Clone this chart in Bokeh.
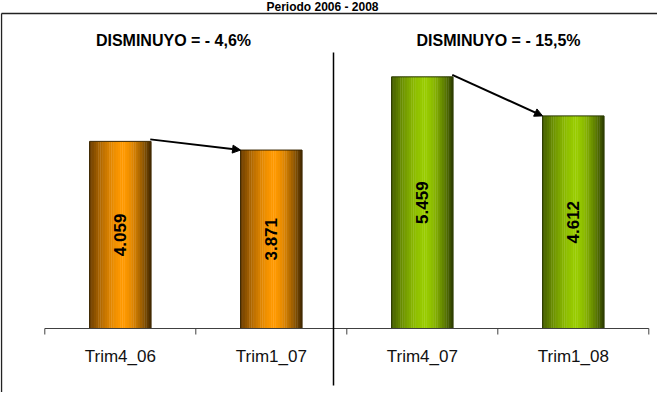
import math
from bokeh.plotting import figure
from bokeh.models import Range1d, Arrow, NormalHead
from bokeh.core.properties import value
from bokeh.embed import file_html
from bokeh.resources import INLINE

# ---------------- data ----------------
title_text = "Periodo 2006 - 2008"
categories = ["Trim4_06", "Trim1_07", "Trim4_07", "Trim1_08"]
values = [4059, 3871, 5459, 4612]
groups = [0, 0, 1, 1]
change_labels = ["DISMINUYO = - 4,6%", "DISMINUYO = - 15,5%"]
value_labels = [f"{v:,}".replace(",", ".") for v in values]

# ---------------- layout / style ----------------
W, H = 657, 392
CAT_PX = 151.0          # pixels per category
X0_PX = 44.3            # canvas x of first category boundary
BASE_PX = 328.0         # canvas y of the baseline
PPU = 0.0461            # pixels per value unit

def ux(px):
    return (px - X0_PX) / CAT_PX

def vy(py):
    return (BASE_PX - py) / PPU

x_start, x_end = ux(0), ux(W)
y_start, y_end = vy(H), vy(0)

FONT = "Liberation Sans"
BAR_W = 0.407
bright = [(255, 153, 0), (153, 204, 0)]
dark_l = [(105, 60, 0), (68, 92, 0)]
dark_r = [(66, 40, 0), (44, 60, 0)]
outline = ["#3a2600", "#2a3800"]
BORDER_Y = 13

p = figure(width=W, height=H, x_range=Range1d(x_start, x_end),
           y_range=Range1d(y_start, y_end), x_axis_type=None, y_axis_type=None,
           toolbar_location=None, output_backend="svg", min_border=0,
           outline_line_color=None, background_fill_color="white",
           border_fill_color="white")
p.grid.visible = False

# ---- gradient bars (sliced) ----
N = 28
xs, tops, widths, cols = [], [], [], []
for i, v in enumerate(values):
    g = groups[i]
    for k in range(N):
        t = (k + 0.5) / N
        peak = 0.55
        if t < peak:
            d = (peak - t) / peak
            dk = dark_l[g]
        else:
            d = (t - peak) / (1 - peak)
            dk = dark_r[g]
        f = 1 - d ** 1.6
        c = tuple(int(round(dk[j] + (bright[g][j] - dk[j]) * f)) for j in range(3))
        cols.append("#%02x%02x%02x" % c)
        xs.append(i + 0.5 - BAR_W / 2 + t * BAR_W)
        widths.append(BAR_W / N * 1.15)
        tops.append(v)
p.vbar(x=xs, top=tops, bottom=0, width=widths, fill_color=cols, line_color=None)

# bar outlines
p.vbar(x=[i + 0.5 for i in range(len(values))], top=values, bottom=0, width=BAR_W,
       fill_color=None, line_color=[outline[g] for g in groups], line_width=1)

# value labels inside bars
p.text(x=[i + 0.5 for i in range(len(values))], y=[v / 2 for v in values],
       text=value_labels, angle=math.pi / 2, text_align="center",
       text_baseline="middle", text_font=value(FONT), text_font_style="bold",
       text_font_size="17px", text_color="black")

# arrows between bars of each group
for i in range(len(values) - 1):
    if groups[i] == groups[i + 1]:
        p.add_layout(Arrow(end=NormalHead(size=8, fill_color="black", line_color="black"),
                           x_start=i + 0.5 + BAR_W / 2 - 0.005, y_start=values[i] + 2 / PPU,
                           x_end=i + 1.5 - BAR_W / 2, y_end=values[i + 1],
                           line_width=2, line_color="black"))

# baseline and tick marks
n = len(categories)
p.segment(x0=[0], y0=[0], x1=[n], y1=[0], line_color="#404040", line_width=1)
p.segment(x0=list(range(n + 1)), y0=[0] * (n + 1), x1=list(range(n + 1)),
          y1=[vy(BASE_PX + 6)] * (n + 1), line_color="#404040", line_width=1)

# category labels
p.text(x=[i + 0.5 for i in range(n)], y=[vy(356)] * n, text=categories,
       text_align="center", text_baseline="middle", text_font=value(FONT),
       text_font_size="17px", text_color="#111111")

# change labels
p.text(x=[ux(173), ux(498)], y=[vy(39.5)] * 2, text=change_labels,
       text_align="center", text_baseline="middle", text_font=value(FONT),
       text_font_style="bold", text_font_size="16px", text_color="black")

# separator between groups
p.segment(x0=[ux(333)], y0=[vy(52)], x1=[ux(333)], y1=[vy(385)],
          line_color="black", line_width=1.5)

# chart-area border (left and top)
p.segment(x0=[ux(1), ux(1)], y0=[vy(BORDER_Y), vy(BORDER_Y)], x1=[ux(1), x_end],
          y1=[vy(H), vy(BORDER_Y)], line_color="#222222", line_width=1.4)

# title above the chart-area border
p.text(x=[ux(322)], y=[vy(6.5)], text=[title_text], text_align="center",
       text_baseline="middle", text_font=value(FONT), text_font_style="bold",
       text_font_size="12px", text_color="black")

open("out.html", "w").write(file_html(p, INLINE))
